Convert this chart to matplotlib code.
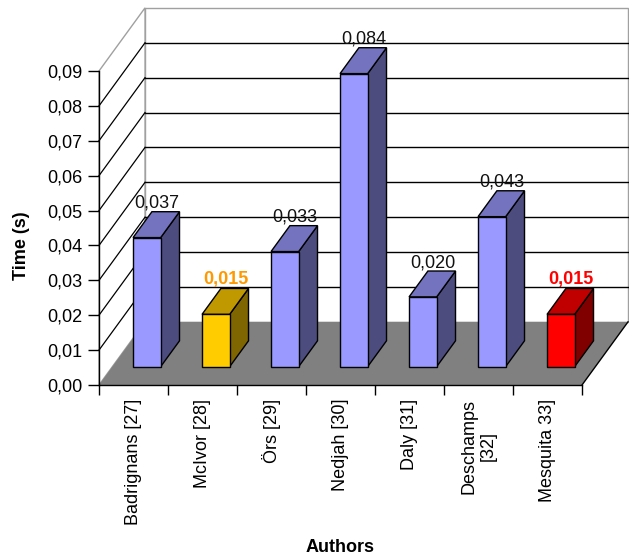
import matplotlib
matplotlib.use("Agg")
import matplotlib.pyplot as plt
from matplotlib.patches import Polygon

plt.rcParams['font.family'] = ['Liberation Sans', 'DejaVu Sans']

# timings per author
authors = ["Badrignans [27]", "McIvor [28]", "Örs [29]", "Nedjah [30]",
           "Daly [31]", "Deschamps\n[32]", "Mesquita 33]"]
times = [0.037, 0.015, 0.033, 0.084, 0.020, 0.043, 0.015]
highlight = ["base", "gold", "base", "base", "base", "base", "red"]
y_ticks = [0.00, 0.01, 0.02, 0.03, 0.04, 0.05, 0.06, 0.07, 0.08, 0.09]

# front face, top face, side face, label colour, label weight
palette = {
    "base": ("#9999FF", "#7373C0", "#4C4C7F", "#111111", "normal"),
    "gold": ("#FFCC00", "#C09900", "#806600", "#FF9900", "bold"),
    "red": ("#FF0000", "#C00000", "#800000", "#FF0000", "bold"),
}

# fake 3D: a full unit of depth moves a point right/up in data units
DX = 0.667
DY = 0.0181
Z0, Z1 = 0.29, 0.70   # bar depth span
BAR_W = 0.4


def shift(x, v, z):
    return (x + z * DX, v + z * DY)


ncat = len(authors)
vmax = y_ticks[-1]

fig = plt.figure(figsize=(6.29, 5.57), dpi=100)
fig.patch.set_facecolor("white")
ax = fig.add_axes([99 / 629, 1 - 385 / 557, 483 / 629, 314 / 557])
ax.set_xlim(0, ncat)
ax.set_ylim(0, vmax)
ax.patch.set_visible(False)
for side in ("top", "right"):
    ax.spines[side].set_visible(False)
for side in ("left", "bottom"):
    ax.spines[side].set_linewidth(1.0)
    ax.spines[side].set_zorder(6)

# walls and floor
back = [shift(0, 0, 1), shift(ncat, 0, 1), shift(ncat, vmax, 1), shift(0, vmax, 1)]
left = [shift(0, 0, 0), shift(0, 0, 1), shift(0, vmax, 1), shift(0, vmax, 0)]
floor = [shift(0, 0, 0), shift(ncat, 0, 0), shift(ncat, 0, 1), shift(0, 0, 1)]
ax.add_patch(Polygon(back, closed=True, facecolor="white", edgecolor="#a0a0a0",
                     lw=1.0, clip_on=False, zorder=0.5))
ax.add_patch(Polygon(left, closed=True, facecolor="white", edgecolor="#a0a0a0",
                     lw=1.0, clip_on=False, zorder=0.5))

for v in y_ticks[1:-1]:
    bx, by = zip(shift(0, v, 1), shift(ncat, v, 1))
    ax.plot(bx, by, color="black", lw=1.0, clip_on=False, zorder=0.6)
    lx, ly = zip(shift(0, v, 0), shift(0, v, 1))
    ax.plot(lx, ly, color="black", lw=0.9, clip_on=False, zorder=0.6)

ax.add_patch(Polygon(floor, closed=True, facecolor="#808080", edgecolor="none",
                     clip_on=False, zorder=0.7))
rx, ry = zip(shift(ncat, 0, 0), shift(ncat, 0, 1))
ax.plot(rx, ry, color="black", lw=1.0, clip_on=False, zorder=0.8)

# bars
for i, (v, key) in enumerate(zip(times, highlight)):
    c_front, c_top, c_side, c_lab, weight = palette[key]
    x0 = i + 0.5 - BAR_W / 2
    x1 = i + 0.5 + BAR_W / 2
    front = [shift(x0, 0, Z0), shift(x1, 0, Z0), shift(x1, v, Z0), shift(x0, v, Z0)]
    side = [shift(x1, 0, Z0), shift(x1, 0, Z1), shift(x1, v, Z1), shift(x1, v, Z0)]
    top = [shift(x0, v, Z0), shift(x1, v, Z0), shift(x1, v, Z1), shift(x0, v, Z1)]
    for pts, col in ((side, c_side), (top, c_top), (front, c_front)):
        ax.add_patch(Polygon(pts, closed=True, facecolor=col, edgecolor="black",
                             lw=1.0, joinstyle="miter", clip_on=False, zorder=3 + i * 0.01))
    lx, ly = shift(i + 0.5, v, 0.5)
    ax.text(lx, v + Z1 * DY, f"{v:.3f}".replace(".", ","), ha="center", va="bottom",
            fontsize=13, color=c_lab, fontweight=weight, zorder=5)

# axes ticks
ax.set_yticks(y_ticks)
ax.set_yticklabels([f"{t:.2f}".replace(".", ",") for t in y_ticks])
ax.tick_params(axis="y", length=8, width=1.0, pad=4, labelsize=13, colors="black")

ax.set_xticks(range(ncat + 1))
ax.set_xticklabels([])
ax.tick_params(axis="x", which="major", length=7, width=1.0)
ax.set_xticks([i + 0.5 for i in range(ncat)], minor=True)
ax.set_xticklabels(authors, minor=True, rotation=90, multialignment="center")
ax.tick_params(axis="x", which="minor", length=0, pad=10, labelsize=13)

fig.text(22 / 629, 1 - 246 / 557, "Time (s)", rotation=90, ha="center", va="center",
         fontsize=13, fontweight="bold")
fig.text(340 / 629, 1 - 547 / 557, "Authors", ha="center", va="center",
         fontsize=13, fontweight="bold")

fig.savefig("out.png", dpi=100)
